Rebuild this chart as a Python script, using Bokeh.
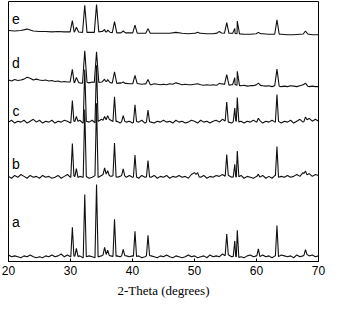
import numpy as np
from bokeh.plotting import figure
from bokeh.models import FixedTicker, Range1d, ColumnDataSource
from bokeh.core.properties import value
from bokeh.embed import file_html
from bokeh.resources import INLINE

# ---------------- data ----------------
TICKS = [20, 30, 40, 50, 60, 70]
SAMPLES = ["a", "b", "c", "d", "e"]

# vertical offsets of each pattern (stacked display)
OFFSETS = {"a": 4, "b": 89, "c": 148, "d": 187, "e": 242}

# Bragg peak positions (2-theta, degrees)
POS = [30.3, 30.95, 32.3, 34.2, 35.5, 36.0, 37.1, 38.5, 40.4, 42.5,
       50.5, 54.0, 55.2, 56.5, 56.9, 60.3, 63.3, 67.9]

# peak heights above background for each sample
H_a = [31, 9, 67, 78, 7, 5, 40, 6, 27, 21, 0, 0, 23, 16, 29, 8, 33, 5]
H_b = [35, 10, 72, 78, 6, 4, 35, 6, 23, 17, 4, 0, 23, 13, 28, 3, 32, 4]
H_c = [23, 6, 56, 61, 5, 3, 27, 5, 18, 12, 0, 0, 21, 13, 26, 3, 29, 4]
H_d = [14, 5, 34, 33, 2, 2, 12, 2, 8.5, 5, 0, 1.5, 11, 7, 15, 2, 18, 2.5]
H_e = [12, 5, 29, 29.5, 2.5, 2, 12, 2, 8.5, 5, 1, 1.5, 11.5, 5.5, 13.5, 1.5, 15.5, 3]

BG_a = [3, 1, 2, 1, 0, 2, 1, 3, 1, 0,
        1, 0, 2, 1, 3, 1, 2, 4, 1, 3,
        1, 2, 1, 2, 0, 1, 2, 1, 0, 1,
        2, 4, 3, 2, 1, 2, 1, 3, 2, 1,
        2, 1, 2, 0, 1, 3, 2, 1, 0, 2,
        1, 3, 1, 0, 2, 1, 0, 1, 3, 1,
        2, 0, 1, 2, 0, 3, 1, 2, 1, 4,
        2, 3, 1, 2, 0, 1, 0, 2, 3, 1,
        2, 1, 3, 1, 2, 0, 2, 1, 3, 2,
        1, 2, 0, 3, 1, 2, 4, 2, 3, 1,
        2]
BG_b = [2, 0, 3, 1, 4, 2, 0, 3, 1, 2,
        0, 3, 1, 2, 0, 1, 3, 0, 2, 4,
        1, 3, 0, 2, 1, 2, 0, 1, 3, 1,
        3, 5, 4, 2, 3, 1, 2, 4, 1, 3,
        1, 2, 0, 3, 1, 2, 1, 3, 0, 2,
        1, 3, 0, 2, 1, 3, 1, 2, 0, 4,
        6, 2, 1, 3, 0, 2, 1, 3, 2, 4,
        2, 3, 1, 2, 1, 3, 0, 2, 1, 0,
        2, 1, 3, 0, 2, 0, 3, 1, 2, 1,
        3, 1, 2, 4, 2, 6, 3, 5, 2, 4,
        3]
BG_c = [1, 3, 0, 2, 1, 3, 0, 2, 4, 1,
        3, 0, 2, 1, 3, 0, 2, 1, 3, 2,
        0, 2, 1, 3, 0, 2, 1, 3, 0, 2,
        4, 2, 5, 3, 1, 2, 0, 3, 1, 2,
        0, 2, 1, 3, 0, 2, 1, 0, 2, 1,
        3, 1, 2, 0, 3, 1, 2, 0, 1, 3,
        2, 0, 3, 1, 2, 0, 2, 3, 1, 4,
        2, 1, 0, 3, 1, 2, 0, 2, 1, 3,
        1, 3, 0, 2, 1, 3, 1, 2, 0, 2,
        1, 3, 0, 2, 4, 1, 3, 5, 2, 4,
        2]
BG_d = [7, 6, 7.5, 6.5, 7, 8, 10, 9, 7, 8,
        7, 6.5, 7, 6, 6.5, 5.5, 6, 5, 5.5, 5,
        5, 4, 5, 4, 3.5, 5, 4, 5, 4, 4.5,
        5, 6, 5.5, 4, 4, 3.5, 4, 3, 3.5, 3,
        3, 3.5, 3, 2.5, 3, 2.5, 2, 3, 2.5, 2,
        2.5, 2, 3, 2.5, 4, 3, 2, 2.5, 2, 2,
        2.5, 3, 2, 1.5, 2, 1.5, 2, 1.5, 2, 3,
        2, 1.5, 2, 2.5, 1, 1, 1.5, 0.5, 1, 1,
        2, 1.5, 1, 0.5, 1, 0, 1, 0.5, 0, 0.5,
        0, 1, 0.5, 0, 1, 2, 1, 0, 0.5, 0,
        0]
# smoother pattern e, read at 1 degree steps
BG_e = [5, 4.5, 5, 6.5, 4.5, 4, 4, 3.5, 4, 3.5,
        3.5, 3.5, 3, 3, 3, 4, 3.5, 2.5, 2.5, 2.5,
        2.5, 2, 2, 2, 2, 2, 2, 3, 2, 1.5,
        2, 2, 1.5, 1.5, 2.5, 2, 2, 1.5, 1, 1,
        1.5, 1.5, 1, 1, 1, 0.5, 0.5, 1, 1.5, 0.5,
        0.5]

HEIGHTS = {"a": H_a, "b": H_b, "c": H_c, "d": H_d, "e": H_e}
BGS = {"a": BG_a, "b": BG_b, "c": BG_c, "d": BG_d, "e": BG_e}
HALF_WIDTH = {"a": 0.25, "b": 0.25, "c": 0.25, "d": 0.36, "e": 0.36}
LABEL_RISE = {"a": 38, "b": 15, "c": 13, "d": 25, "e": 17}


def build(name):
    by = np.array(BGS[name], dtype=float)
    bx = np.linspace(20, 70, len(by))
    w = HALF_WIDTH[name]
    off = OFFSETS[name]
    hs = HEIGHTS[name]
    active = [(p, h) for p, h in zip(POS, hs) if h > 0]
    pts = []
    for x, y in zip(bx, by):
        if all(abs(x - p) > w for p, _ in active):
            pts.append((x, y + off))
    for p, h in active:
        for xx, add in ((p - w, 0.0), (p, h), (p + w, 0.0)):
            pts.append((xx, float(np.interp(xx, bx, by)) + off + add))
    pts.sort()
    return [q[0] for q in pts], [q[1] for q in pts]


p = figure(width=326, height=300, x_range=Range1d(20, 70), y_range=Range1d(0, 278),
           output_backend="svg", toolbar_location=None, y_axis_location=None,
           min_border_left=8, min_border_right=8, min_border_top=1, min_border_bottom=0)
p.background_fill_color = "white"
p.border_fill_color = "white"
p.outline_line_color = "black"
p.outline_line_alpha = 1.0
p.outline_line_width = 1
p.grid.visible = False

for s in SAMPLES:
    xs, ys = build(s)
    p.line(xs, ys, line_color="#111111", line_width=1.1)

lab_src = ColumnDataSource(dict(
    x=[21.2] * len(SAMPLES),
    y=[OFFSETS[s] + LABEL_RISE[s] for s in SAMPLES],
    t=SAMPLES,
))
p.text(x="x", y="y", text="t", source=lab_src, text_font=value("Liberation Sans"),
       text_font_size="14px", text_align="center", text_baseline="middle",
       text_color="black")

ax = p.xaxis[0]
ax.ticker = FixedTicker(ticks=TICKS)
ax.minor_tick_line_color = None
ax.major_tick_in = 3
ax.major_tick_out = 0
ax.axis_line_color = "black"
ax.major_tick_line_color = "black"
ax.major_label_text_font = "Liberation Sans"
ax.major_label_text_font_size = "12px"
ax.major_label_text_color = "black"
ax.major_label_standoff = 4
ax.axis_label = "2-Theta (degrees)"
ax.axis_label_text_font = "Liberation Serif"
ax.axis_label_text_font_style = "normal"
ax.axis_label_text_font_size = "13px"
ax.axis_label_text_color = "black"
ax.axis_label_standoff = 5

open("out.html", "w").write(file_html(p, INLINE))
